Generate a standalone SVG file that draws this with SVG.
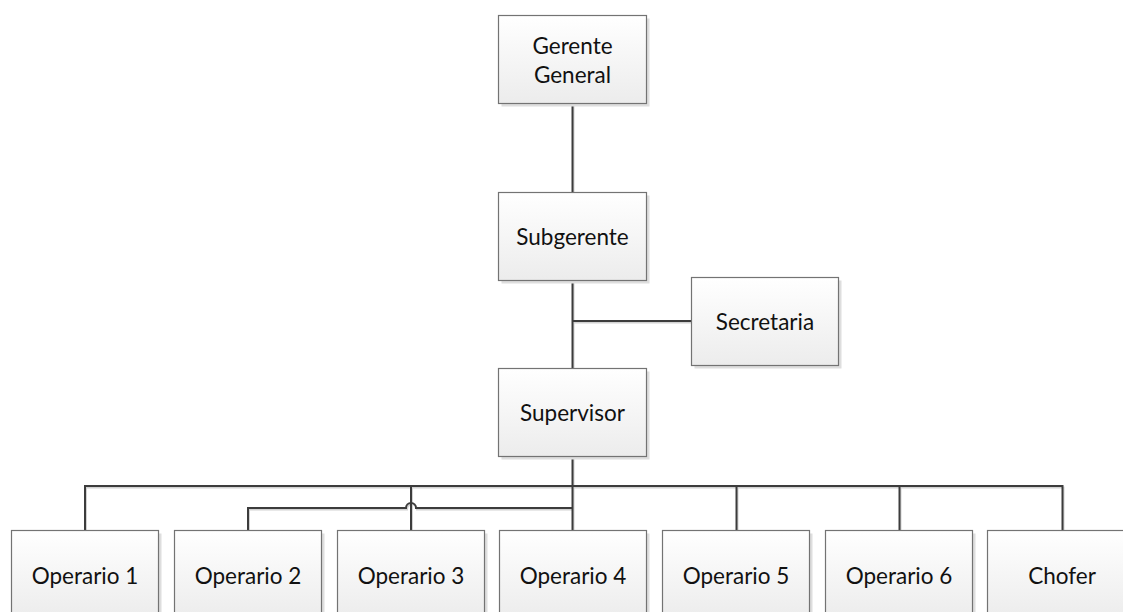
<svg xmlns="http://www.w3.org/2000/svg" xmlns:xlink="http://www.w3.org/1999/xlink" width="1123" height="612" viewBox="0 0 1123 612">
  <style>
    .box { fill: url(#boxFill); stroke: #737373; stroke-width: 1.2; }
    .shadow { fill: #dedede; }
    .lbl { font-family: Lato, "Open Sans", "Liberation Sans", sans-serif; font-size: 22.5px; fill: #111111; text-anchor: middle; dominant-baseline: central; }
    .wire { fill: none; stroke: #3c3c3c; stroke-width: 2; }
    .wire-shadow { fill: none; stroke: #d2d2d2; stroke-width: 2; }
  </style>
  <defs>
    <linearGradient id="boxFill" x1="0" y1="0" x2="0" y2="1">
      <stop offset="0" stop-color="#ffffff"/>
      <stop offset="1" stop-color="#ececec"/>
    </linearGradient>
  </defs>
  <rect width="1123" height="612" fill="#ffffff"/>

  <!-- connector shadows -->
  <g id="connector-shadows" class="wire-shadow" transform="translate(1,1.5)">
    <path d="M572.5,104 V192.5"/>
    <path d="M572.5,280.5 V368.5 M572.5,321 H691.5"/>
    <path d="M572.5,456.5 V531 M85,531 V486 H1062.5 V531 M411,486 V531 M736.5,486 V531 M899.5,486 V531"/>
    <path d="M572.5,508 H416 A5,5 0 0 0 406,508 H248 V531"/>
  </g>

  <!-- connectors -->
  <g id="connectors" class="wire">
    <path d="M572.5,104 V192.5"/>
    <path d="M572.5,280.5 V368.5"/>
    <path d="M572.5,321 H691.5"/>
    <path d="M572.5,456.5 V531"/>
    <path d="M85,531 V486 H1062.5 V531"/>
    <path d="M411,486 V531"/>
    <path d="M736.5,486 V531"/>
    <path d="M899.5,486 V531"/>
    <path d="M572.5,508 H416 A5,5 0 0 0 406,508 H248 V531"/>
  </g>

  <g id="gerente-general">
    <rect class="shadow" x="501.5" y="18.5" width="148" height="88"/>
    <rect class="box" x="498.5" y="15.5" width="148" height="88"/>
    <text class="lbl" x="572.5" y="45">Gerente</text>
    <text class="lbl" x="572.5" y="74.5">General</text>
  </g>

  <g id="subgerente">
    <rect class="shadow" x="501.5" y="195.5" width="148" height="88"/>
    <rect class="box" x="498.5" y="192.5" width="148" height="88"/>
    <text class="lbl" x="572.5" y="236.5">Subgerente</text>
  </g>

  <g id="secretaria">
    <rect class="shadow" x="694.5" y="280.5" width="147" height="88"/>
    <rect class="box" x="691.5" y="277.5" width="147" height="88"/>
    <text class="lbl" x="765" y="321.5">Secretaria</text>
  </g>

  <g id="supervisor">
    <rect class="shadow" x="501.5" y="371.5" width="148" height="88"/>
    <rect class="box" x="498.5" y="368.5" width="148" height="88"/>
    <text class="lbl" x="572.5" y="412.5">Supervisor</text>
  </g>

  <g id="operario-1">
    <rect class="shadow" x="14.5" y="533.5" width="147" height="88"/>
    <rect class="box" x="11.5" y="530.5" width="147" height="88"/>
    <text class="lbl" x="85" y="575">Operario 1</text>
  </g>

  <g id="operario-2">
    <rect class="shadow" x="177.5" y="533.5" width="147" height="88"/>
    <rect class="box" x="174.5" y="530.5" width="147" height="88"/>
    <text class="lbl" x="248" y="575">Operario 2</text>
  </g>

  <g id="operario-3">
    <rect class="shadow" x="340.5" y="533.5" width="147" height="88"/>
    <rect class="box" x="337.5" y="530.5" width="147" height="88"/>
    <text class="lbl" x="411" y="575">Operario 3</text>
  </g>

  <g id="operario-4">
    <rect class="shadow" x="502.5" y="533.5" width="147" height="88"/>
    <rect class="box" x="499.5" y="530.5" width="147" height="88"/>
    <text class="lbl" x="573" y="575">Operario 4</text>
  </g>

  <g id="operario-5">
    <rect class="shadow" x="665.5" y="533.5" width="147" height="88"/>
    <rect class="box" x="662.5" y="530.5" width="147" height="88"/>
    <text class="lbl" x="736" y="575">Operario 5</text>
  </g>

  <g id="operario-6">
    <rect class="shadow" x="828.5" y="533.5" width="147" height="88"/>
    <rect class="box" x="825.5" y="530.5" width="147" height="88"/>
    <text class="lbl" x="899" y="575">Operario 6</text>
  </g>

  <g id="chofer">
    <rect class="shadow" x="990.5" y="533.5" width="147" height="88"/>
    <rect class="box" x="987.5" y="530.5" width="147" height="88"/>
    <text class="lbl" x="1062" y="575">Chofer</text>
  </g>
</svg>
